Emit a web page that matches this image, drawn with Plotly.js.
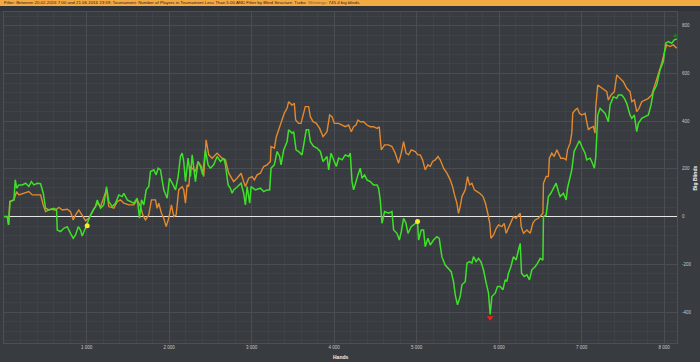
<!DOCTYPE html>
<html>
<head>
<meta charset="utf-8">
<script src="https://cdn.plot.ly/plotly-3.0.1.min.js"></script>
<style>
html,body{margin:0;padding:0;background:#383b3f;}
#chart{width:700px;height:362px;}
</style>
</head>
<body>
<div id="chart"></div>
<script>
// ---- data ----
const greenHands = [0,40,56,71,120,137,153,180,222,262,301,331,362,403,443,476,504,544,604,637,645,685,725,766,806,839,867,900,927,948,988,1040,1081,1109,1130,1170,1209,1242,1270,1311,1351,1391,1432,1452,1493,1533,1573,1614,1642,1666,1694,1723,1754,1775,1815,1844,1868,1896,1917,1936,1977,2005,2038,2078,2110,2138,2159,2178,2199,2231,2259,2280,2320,2352,2380,2408,2441,2473,2501,2541,2582,2623,2662,2683,2716,2743,2764,2783,2831,2873,2904,2925,2946,2977,2994,3046,3106,3147,3188,3219,3236,3276,3309,3340,3357,3389,3430,3449,3490,3510,3539,3570,3611,3639,3663,3691,3712,3752,3793,3833,3866,3914,3934,3963,3994,4027,4055,4096,4136,4176,4196,4217,4236,4257,4289,4317,4338,4369,4398,4438,4478,4520,4539,4559,4580,4612,4660,4701,4721,4762,4790,4814,4842,4871,4895,4935,4983,5011,5024,5056,5084,5104,5137,5165,5205,5246,5274,5306,5346,5386,5419,5447,5468,5495,5528,5549,5589,5610,5641,5670,5689,5721,5749,5779,5810,5843,5871,5891,5912,5952,5980,6013,6045,6073,6094,6113,6142,6173,6206,6234,6255,6271,6303,6336,6367,6396,6436,6464,6497,6530,6537,6570,6597,6626,6658,6690,6718,6739,6779,6812,6828,6852,6880,6908,6941,6972,7002,7041,7062,7102,7122,7154,7171,7183,7195,7223,7244,7284,7323,7344,7384,7425,7444,7486,7517,7546,7586,7607,7638,7667,7687,7728,7768,7808,7840,7868,7909,7949,7989,8018,8050,8091,8122,8152];
const greenBB = [0,0,-35,63,70,154,119,133,133,140,126,147,133,140,138,98,35,28,35,28,-56,-63,-49,-42,-70,-91,-77,-42,-56,-81,-47,0,28,42,70,35,49,126,63,42,56,91,84,98,70,63,56,77,-7,70,49,112,126,189,196,175,203,196,147,112,77,161,140,112,168,252,266,231,147,245,168,259,147,231,210,175,280,217,203,217,252,231,245,217,133,119,98,112,126,140,98,49,126,56,126,112,119,105,112,112,203,217,273,252,217,280,314,364,350,356,280,273,259,308,364,364,314,294,287,273,231,252,196,266,238,210,245,238,259,252,266,147,112,140,175,203,161,175,154,147,133,133,119,70,-28,21,14,21,-56,-70,-98,-63,-7,-28,-70,-42,-28,-21,-98,-56,-56,-126,-91,-119,-98,-84,-91,-168,-203,-217,-231,-273,-328,-370,-335,-286,-273,-195,-189,-195,-168,-189,-175,-189,-223,-279,-321,-410,-335,-321,-293,-293,-307,-265,-272,-237,-210,-168,-182,-140,-112,-237,-251,-244,-265,-223,-210,-196,-175,-182,0,7,84,98,119,140,105,84,98,70,119,161,196,273,294,318,294,266,238,245,231,203,252,377,426,454,447,433,398,468,503,496,510,510,496,475,426,412,426,356,391,412,419,426,468,524,552,615,650,727,734,727,741,745];

const orangeHands = [0,40,56,71,120,153,180,241,301,343,403,443,476,504,564,625,665,706,766,806,839,867,907,948,988,1028,1081,1130,1170,1242,1270,1331,1372,1412,1452,1512,1573,1614,1654,1682,1714,1754,1787,1835,1856,1875,1908,1936,1965,1996,2029,2057,2086,2117,2159,2178,2199,2219,2239,2259,2320,2352,2392,2420,2449,2481,2522,2582,2643,2683,2723,2764,2783,2824,2873,2904,2925,2965,3006,3034,3067,3106,3147,3188,3228,3236,3276,3300,3340,3369,3397,3430,3449,3490,3518,3534,3570,3599,3624,3651,3691,3712,3745,3785,3825,3866,3914,3946,3975,4003,4055,4096,4136,4176,4208,4236,4265,4289,4317,4357,4398,4438,4478,4520,4547,4572,4612,4660,4701,4741,4781,4814,4842,4871,4902,4935,4983,5016,5044,5072,5104,5137,5165,5193,5226,5258,5286,5326,5367,5407,5435,5459,5488,5507,5528,5549,5589,5617,5641,5670,5700,5733,5764,5805,5834,5862,5886,5900,5932,5965,5993,6033,6061,6085,6113,6142,6173,6206,6234,6255,6267,6295,6336,6376,6408,6436,6476,6505,6530,6537,6570,6597,6609,6638,6666,6699,6718,6747,6779,6812,6828,6860,6880,6892,6921,6948,6972,7002,7041,7081,7102,7142,7162,7171,7195,7223,7263,7304,7323,7356,7396,7425,7444,7477,7505,7546,7586,7607,7638,7667,7695,7728,7768,7808,7849,7889,7929,7970,8010,8030,8070,8110,8152];
const orangeBB = [0,0,-35,63,70,105,91,98,105,91,91,91,49,21,31,28,39,28,31,21,-14,7,28,7,-17,-7,28,56,42,112,42,35,63,70,56,49,49,70,42,7,-14,7,70,70,35,56,14,-7,-42,-7,49,0,7,112,126,112,56,133,126,210,189,231,210,168,322,259,245,266,245,238,182,154,147,161,182,147,126,161,168,154,175,182,210,217,231,294,287,335,377,405,434,454,482,468,475,405,391,391,426,461,461,419,398,391,370,335,356,426,419,391,391,384,377,384,356,377,384,405,398,398,384,377,377,370,377,280,301,301,294,266,224,266,314,266,259,280,273,259,259,238,196,217,210,231,238,252,238,203,182,154,126,91,56,14,42,84,112,168,133,140,112,105,98,84,56,14,-28,-91,-77,-49,-35,-42,-28,-70,-49,-28,0,-7,7,14,-42,-70,-56,-70,-28,-14,-7,7,14,140,168,168,245,266,252,280,266,245,245,238,280,308,350,434,447,454,433,426,433,364,371,378,350,461,552,545,538,524,489,510,524,594,587,573,566,538,524,482,489,440,454,482,489,496,510,552,601,643,699,720,713,720,706];

const sessionHands = [1008, 5011];
const sessionBB = [-38, -21];
const minHand = [5891];
const minBB = [-424];
const maxHand = [8138];
const maxBB = [758];

const xTickVals = [1000,2000,3000,4000,5000,6000,7000,8000];
const xTickText = ["1 000","2 000","3 000","4 000","5 000","6 000","7 000","8 000"];
const yTickVals = [-400,-200,0,200,400,600,800];
const yTickText = ["-400","-200","0","200","400","600","800"];

const titleText = 'Filter: Between 20.02.2016 7:00 and 21.06.2016 23:59; Tournament: Number of Players in Tournament Less Than 5.00 AND Filter by Blind Structure: Turbo  <span style="color:#7a5a2a">Winnings:</span> 745.4 big blinds';

// ---- chart ----
const traces = [
  {x: orangeHands, y: orangeBB, type: 'scatter', mode: 'lines',
   line: {color: '#e3892f', width: 1.4}, hoverinfo: 'skip'},
  {x: greenHands, y: greenBB, type: 'scatter', mode: 'lines',
   line: {color: '#3fe02a', width: 1.5}, hoverinfo: 'skip'},
  {x: sessionHands, y: sessionBB, type: 'scatter', mode: 'markers',
   marker: {color: '#f4ec1c', size: 5, symbol: 'circle'}, hoverinfo: 'skip'},
  {x: minHand, y: minBB, type: 'scatter', mode: 'markers',
   marker: {color: '#ff1a1a', size: 6, symbol: 'triangle-down'}, hoverinfo: 'skip'},
  {x: maxHand, y: maxBB, type: 'scatter', mode: 'markers',
   marker: {color: '#1f7a1f', size: 5, symbol: 'triangle-up'}, hoverinfo: 'skip'}
];

const W = 673, H = 331; // plot area size in px
const layout = {
  width: 700, height: 362,
  margin: {l: 4, r: 23, t: 12, b: 19, pad: 0},
  paper_bgcolor: '#383b3f',
  plot_bgcolor: '#383b3f',
  showlegend: false,
  font: {family: 'Liberation Sans, Arial, sans-serif', size: 5, color: '#c8c8c8'},
  xaxis: {
    range: [0, 8155],
    tickmode: 'array', tickvals: xTickVals, ticktext: xTickText,
    ticks: '', showline: true, linecolor: '#4c4f54', linewidth: 1, mirror: true,
    showgrid: true, gridcolor: '#4a4d52', gridwidth: 1,
    minor: {tick0: 0, dtick: 200, showgrid: true, gridcolor: '#3f4246', gridwidth: 1},
    zeroline: false,
    tickfont: {size: 4.5, color: '#c8c8c8'},
    fixedrange: true
  },
  yaxis: {
    range: [-530, 858], side: 'right',
    tickmode: 'array', tickvals: yTickVals, ticktext: yTickText,
    ticks: 'outside', ticklen: 3, tickcolor: 'rgba(0,0,0,0)',
    showline: true, linecolor: '#4c4f54', linewidth: 1, mirror: true,
    showgrid: true, gridcolor: '#4a4d52', gridwidth: 1,
    minor: {tick0: 0, dtick: 40, showgrid: true, gridcolor: '#3f4246', gridwidth: 1},
    zeroline: true, zerolinecolor: '#e6e6e6', zerolinewidth: 1.5,
    tickfont: {size: 4.5, color: '#c8c8c8'},
    fixedrange: true
  },
  shapes: [
    {type: 'rect', xref: 'paper', yref: 'paper', layer: 'above',
     x0: -4/W, x1: 696/W, y0: 337/H, y1: 343/H,
     fillcolor: '#f4aa44', line: {width: 0}},
    {type: 'rect', xref: 'paper', yref: 'paper', layer: 'below',
     x0: -4/W, x1: 696/W, y0: 332/H, y1: 337/H,
     fillcolor: '#303337', line: {width: 0}}
  ],
  annotations: [
    {xref: 'paper', yref: 'paper', x: -2/W, y: 340/H, xanchor: 'left', yanchor: 'middle',
     text: titleText, showarrow: false,
     font: {size: 4.4, color: '#1e1e1e', family: 'Liberation Sans, Arial, sans-serif'}},
    {xref: 'paper', yref: 'paper', x: 0.5, y: -14/H, xanchor: 'center', yanchor: 'middle',
     text: '<b>Hands</b>', showarrow: false,
     font: {size: 5, color: '#f0f0f0'}},
    {xref: 'paper', yref: 'paper', x: 690/W, y: 0.5, xanchor: 'center', yanchor: 'middle',
     text: '<b>Big Blinds</b>', textangle: -90, showarrow: false,
     font: {size: 5, color: '#f0f0f0'}}
  ]
};

Plotly.newPlot('chart', traces, layout, {staticPlot: true, displayModeBar: false});
</script>
</body>
</html>
